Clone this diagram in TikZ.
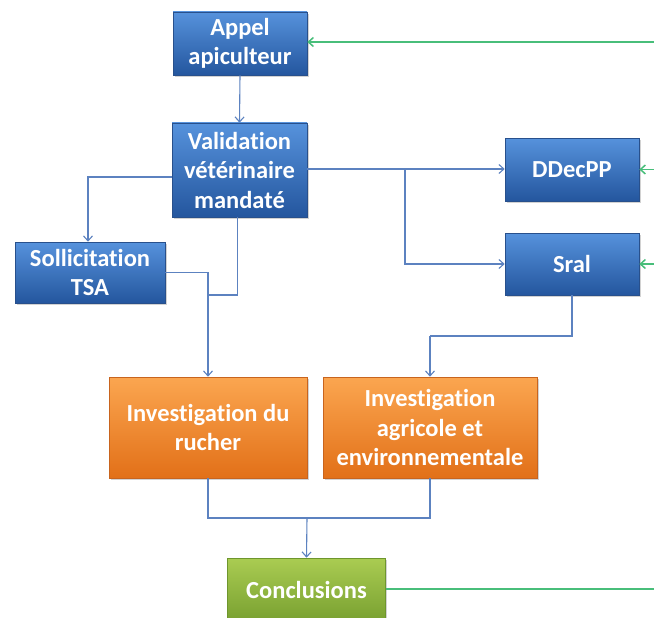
\documentclass[tikz,border=0pt]{standalone}
\usepackage{fontspec}
\newfontfamily\boxfont[Ligatures=NoCommon]{Carlito}
\usetikzlibrary{arrows.meta,shadows,calc}
\definecolor{bluetop}{RGB}{86,146,220}
\definecolor{bluebot}{RGB}{36,86,158}
\definecolor{blueedge}{RGB}{40,80,140}
\definecolor{orgtop}{RGB}{251,166,80}
\definecolor{orgbot}{RGB}{226,112,24}
\definecolor{orgedge}{RGB}{200,100,30}
\definecolor{grntop}{RGB}{170,204,82}
\definecolor{grnbot}{RGB}{120,160,48}
\definecolor{grnedge}{RGB}{110,150,45}
\definecolor{conn}{RGB}{92,130,192}
\definecolor{gline}{RGB}{72,190,122}
\tikzset{
  basebox/.style={rectangle, align=center, text=white,
    font=\boxfont\bfseries\fontsize{24.5}{29.5}\selectfont,
    inner sep=0pt, line width=0.6pt,
    drop shadow={opacity=0.35, shadow xshift=1.5pt, shadow yshift=-2pt}},
  bluebox/.style={basebox, draw=blueedge, top color=bluetop, bottom color=bluebot},
  orangebox/.style={basebox, draw=orgedge, top color=orgtop, bottom color=orgbot},
  greenbox/.style={basebox, draw=grnedge, top color=grntop, bottom color=grnbot},
  link/.style={draw=conn, line width=1.1pt, -{Straight Barb[length=5pt,width=9pt]}},
  plain/.style={draw=conn, line width=1.1pt},
  glink/.style={draw=gline, line width=1.5pt, -{Straight Barb[length=5pt,width=9pt]}},
  gplain/.style={draw=gline, line width=1.5pt}
}
\begin{document}
\begin{tikzpicture}[x=1pt,y=-1pt]
\clip (0,0) rectangle (654,618);
\fill[white] (0,0) rectangle (654,618);

\node[bluebox, minimum width=134pt, minimum height=63pt] (appel) at (240,43.5) {Appel\\apiculteur};
\node[bluebox, minimum width=135pt, minimum height=94pt] (valid) at (239.5,170) {Validation\\vétérinaire\\mandaté};
\node[bluebox, minimum width=150pt, minimum height=61pt] (soll) at (90,272.5) {Sollicitation\\TSA};
\node[bluebox, minimum width=134pt, minimum height=63pt] (ddec) at (572,169.5) {DDecPP};
\node[bluebox, minimum width=134pt, minimum height=62pt] (sral) at (572,264) {Sral};
\node[orangebox, minimum width=198pt, minimum height=101pt] (rucher) at (208,427.5) {Investigation du\\rucher};
\node[orangebox, minimum width=214pt, minimum height=101pt] (agri) at (430,427.5) {Investigation\\agricole et\\environnementale};
\node[greenbox, minimum width=158pt, minimum height=64pt] (concl) at (306.5,590) {Conclusions};

\coordinate (jv) at (208,295);
\coordinate (bx) at (405,169);
\coordinate (js) at (430,336);
\coordinate (jb) at (307,518);
\coordinate (g1) at (654,42);
\coordinate (g2) at (654,169.5);
\coordinate (g3) at (654,264);
\coordinate (g4) at (654,589);

% blue connectors
\draw[link] (appel.south) -- (valid.north);
\draw[link] ([yshift=-7pt]valid.west) -| ([xshift=-2pt]soll.north);
\draw[link] (soll.east) -| (rucher.north);
\draw[plain] ([xshift=-2pt]valid.south) |- (jv);
\draw[plain] (valid.east |- bx) -- (bx);
\draw[link] (bx) -- (ddec.west |- bx);
\draw[link] (bx) |- (sral.west);
\draw[plain] (sral.south) |- (js);
\draw[link] (js) -- (agri.north);
\draw[plain] (rucher.south) |- (agri.south |- jb) -- (agri.south);
\draw[link] (jb) -- (concl.north);

% green connectors
\draw[glink] (g1) -- (appel.east |- g1);
\draw[glink] (g2) -- (ddec.east |- g2);
\draw[glink] (g3) -- (sral.east |- g3);
\draw[gplain] (concl.east |- g4) -- (g4);
\end{tikzpicture}
\end{document}
